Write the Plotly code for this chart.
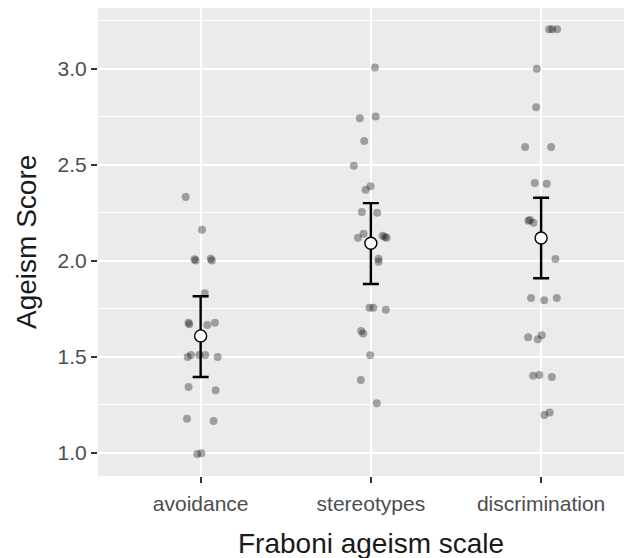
import plotly.graph_objects as go

categories = ["avoidance", "stereotypes", "discrimination"]

# jittered observations: (value, horizontal jitter in category units)
avoidance_vals = [2.332, 2.161, 2.008, 2.001, 2.011, 2.001, 1.831, 1.678, 1.669, 1.666, 1.678,
                  1.51, 1.499, 1.51, 1.51, 1.499, 1.343, 1.326, 1.178, 1.166, 0.995, 0.998]
avoidance_jit = [-0.088, 0.008, -0.036, -0.03, 0.059, 0.066, 0.024, -0.071, -0.067, 0.039, 0.084,
                 -0.057, -0.076, -0.008, 0.027, 0.10, -0.071, 0.088, -0.08, 0.076, -0.02, 0.004]

stereotypes_vals = [3.006, 2.742, 2.751, 2.623, 2.494, 2.37, 2.387, 2.254, 2.25, 2.12, 2.14, 2.13,
                    2.124, 2.12, 2.01, 1.995, 1.756, 1.756, 1.745, 1.635, 1.622, 1.508, 1.38, 1.258]
stereotypes_jit = [0.024, -0.065, 0.028, -0.039, -0.10, -0.031, -0.002, -0.053, 0.037, -0.076, -0.043,
                   0.069, 0.082, 0.092, 0.045, 0.045, -0.008, 0.014, 0.088, -0.057, -0.045, -0.004,
                   -0.059, 0.035]

discrimination_vals = [3.205, 3.205, 3.205, 2.999, 2.798, 2.592, 2.592, 2.404, 2.40, 2.208, 2.212,
                       2.198, 2.009, 1.806, 1.794, 1.806, 1.602, 1.591, 1.612, 1.402, 1.406, 1.395,
                       1.198, 1.21]
discrimination_jit = [0.047, 0.065, 0.094, -0.025, -0.029, -0.094, 0.059, -0.037, 0.033, -0.075, -0.065,
                      -0.045, 0.084, -0.059, 0.018, 0.092, -0.076, -0.019, 0.004, -0.047, -0.01, 0.063,
                      0.019, 0.05]

means = [1.609, 2.091, 2.118]
upper = [1.815, 2.300, 2.328]
lower = [1.395, 1.879, 1.909]

y_ticks = [1.0, 1.5, 2.0, 2.5, 3.0]
y_tick_labels = ["1.0", "1.5", "2.0", "2.5", "3.0"]

x_title = "Fraboni ageism scale"
y_title = "Ageism Score"

FONT = "Liberation Sans, Arial, sans-serif"

fig = go.Figure()

groups = [(avoidance_vals, avoidance_jit), (stereotypes_vals, stereotypes_jit),
          (discrimination_vals, discrimination_jit)]
xs, ys = [], []
for i, (vals, jit) in enumerate(groups):
    for v, j in zip(vals, jit):
        xs.append(i + 1 + j)
        ys.append(v)

fig.add_trace(go.Scatter(
    x=xs, y=ys, mode="markers",
    marker=dict(size=8, color="rgba(0,0,0,0.33)", line=dict(width=0)),
    hoverinfo="skip", showlegend=False,
))

fig.add_trace(go.Scatter(
    x=[1, 2, 3], y=means, mode="markers",
    marker=dict(size=12, color="white", line=dict(width=1.4, color="black")),
    error_y=dict(type="data", symmetric=False,
                 array=[u - m for u, m in zip(upper, means)],
                 arrayminus=[m - l for m, l in zip(means, lower)],
                 color="black", thickness=2.4, width=8),
    showlegend=False,
))

fig.update_layout(
    width=632, height=558,
    margin=dict(l=90, r=8, t=0, b=90),
    paper_bgcolor="white", plot_bgcolor="#EBEBEB",
    font=dict(family=FONT),
    annotations=[
        dict(text=x_title, x=2, xref="x", y=0, yref="paper",
             yanchor="middle", xanchor="center", yshift=-67, showarrow=False,
             font=dict(size=28, color="#1a1a1a", family=FONT)),
        dict(text=y_title, x=0, xref="paper", y=0.5, yref="paper", textangle=-90,
             yanchor="middle", xanchor="center", xshift=-72, showarrow=False,
             font=dict(size=28, color="#1a1a1a", family=FONT)),
    ],
)

fig.update_xaxes(
    range=[0.397, 3.534], tickvals=[1, 2, 3], ticktext=categories,
    showgrid=True, gridcolor="white", gridwidth=2, zeroline=False,
    ticks="outside", ticklen=6, tickwidth=2.2, tickcolor="#333333",
    tickfont=dict(size=21, color="#4D4D4D", family=FONT),
    ticklabelstandoff=3,
)

fig.update_yaxes(
    range=[0.880, 3.315], tickvals=y_ticks, ticktext=y_tick_labels,
    showgrid=True, gridcolor="white", gridwidth=2, zeroline=False,
    minor=dict(dtick=0.25, tick0=0.25, showgrid=True, gridcolor="white", gridwidth=1),
    ticks="outside", ticklen=6, tickwidth=2.2, tickcolor="#333333",
    tickfont=dict(size=21, color="#4D4D4D", family=FONT),
    ticklabelstandoff=0,
)

fig.write_html("out.html")
